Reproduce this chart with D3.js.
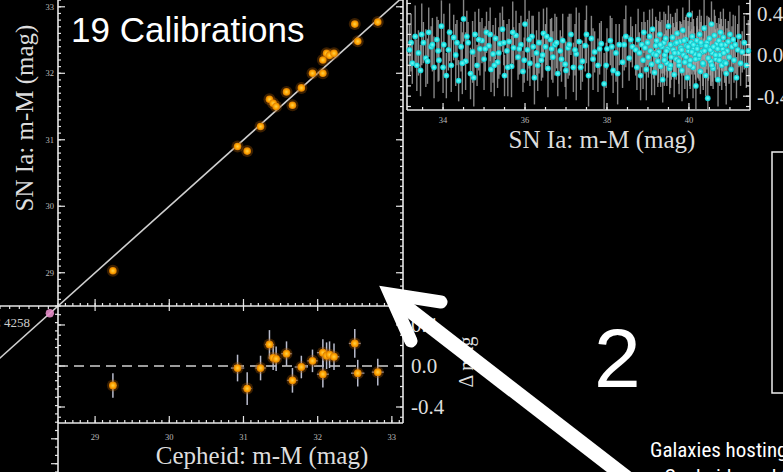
<!DOCTYPE html>
<html><head><meta charset="utf-8">
<script src="https://cdn.jsdelivr.net/npm/d3@7"></script>
<style>
html,body{margin:0;padding:0;background:#000;overflow:hidden;}
svg{display:block;}
</style></head>
<body>
<svg id="c" width="783" height="472"></svg>
<script>
// ---------- DATA ----------
// Calibrator galaxies: Cepheid distance modulus, SN Ia distance modulus, residual (mag), residual error, Cepheid error
const cephMu   = [29.24,30.92,31.05,31.23,31.35,31.40,31.44,31.58,31.66,31.78,31.93,32.07,32.07,32.12,32.16,32.22,32.50,32.54,32.81];
const snMu     = [29.03,30.90,30.83,31.20,31.61,31.55,31.50,31.72,31.52,31.78,32.00,32.20,32.00,32.30,32.27,32.30,32.74,32.48,32.77];
const resid    = [-0.19,-0.02,-0.22,-0.02,0.21,0.08,0.07,0.12,-0.14,-0.01,0.05,0.13,-0.08,0.10,0.11,0.09,0.22,-0.07,-0.06];
const residErr = [0.12,0.13,0.16,0.12,0.14,0.12,0.12,0.12,0.12,0.11,0.11,0.13,0.13,0.13,0.13,0.13,0.14,0.13,0.13];
const cephErr  = [0.05,0.09,0.06,0.07,0.06,0.06,0.06,0.07,0.07,0.09,0.07,0.08,0.08,0.07,0.07,0.07,0.08,0.09,0.08];
const anchorName = "NGC 4258";
const anchorMu = 28.39;

// Hubble-flow SNe Ia: [m-M, residual, error]
const hubbleSN = [
[33.18,0.05,0.25],[33.25,-0.08,0.2],[33.32,0.18,0.3],[33.40,0.02,0.22],[33.45,-0.15,0.25],[33.52,0.12,0.2],
[33.58,-0.03,0.28],[33.65,0.22,0.24],[33.71,0.08,0.2],[33.78,-0.12,0.3],[33.85,0.15,0.22],[33.90,-0.05,0.2],
[33.96,0.28,0.25],[34.02,0.10,0.3],[34.08,-0.20,0.22],[34.13,0.05,0.2],[34.20,-0.10,0.26],[34.26,0.17,0.22],
[34.31,0.00,0.3],[34.38,-0.25,0.2],[34.44,0.08,0.24],[34.50,0.35,0.22],[34.55,-0.06,0.28],[34.61,0.12,0.2],
[34.67,-0.18,0.25],[34.72,0.03,0.3],[34.78,0.20,0.22],[34.83,-0.10,0.2],[34.90,0.06,0.26],[34.95,0.14,0.22],
[35.00,-0.04,0.3],[35.06,0.22,0.2],[35.12,0.09,0.24],[35.17,-0.14,0.22],[35.22,0.01,0.28],[35.28,0.16,0.2],
[35.33,-0.07,0.25],[35.39,0.11,0.3],[35.45,0.25,0.22],[35.50,-0.20,0.2],[35.56,0.04,0.26],[35.61,0.13,0.22],
[35.67,-0.11,0.3],[35.72,0.07,0.2],[35.78,0.19,0.24],[35.83,-0.02,0.22],[35.90,0.10,0.28],[35.95,-0.16,0.2],
[36.00,0.30,0.25],[36.06,0.05,0.3],[36.12,-0.08,0.22],[36.17,0.18,0.2],[36.23,-0.22,0.26],[36.28,0.02,0.22],
[36.34,0.12,0.3],[36.40,-0.05,0.2],[36.45,0.21,0.24],[36.50,0.08,0.22],[36.56,-0.13,0.28],[36.62,0.15,0.2],
[36.68,-0.02,0.25],[36.73,0.10,0.3],[36.80,-0.18,0.22],[36.86,0.04,0.2],[36.92,0.14,0.26],[36.98,-0.09,0.22],
[37.05,0.07,0.3],[37.12,0.20,0.2],[37.18,-0.12,0.24],[37.25,0.01,0.45],[37.32,0.13,0.28],[37.40,-0.06,0.2],
[37.47,0.09,0.25],[37.55,-0.20,0.3],[37.62,0.16,0.22],[37.70,0.03,0.2],[37.78,-0.10,0.26],[37.86,0.11,0.22],
[37.93,-0.28,0.3],[38.00,0.06,0.2],[38.08,0.14,0.24],[38.15,-0.15,0.22],[38.22,0.02,0.28],[38.30,0.10,0.2],
[38.38,-0.07,0.25],[38.46,0.18,0.3],[38.54,-0.03,0.22],[38.62,0.08,0.2],
[33.22,0.12,0.28],[33.36,-0.10,0.25],[33.48,0.20,0.3],[33.62,-0.06,0.22],[33.74,0.10,0.26],[33.88,0.04,0.3],
[34.00,-0.12,0.25],[34.16,0.22,0.28],[34.34,0.12,0.22],[34.47,-0.08,0.3],[34.58,0.18,0.25],[34.75,-0.22,0.28],
[34.87,0.15,0.3],[35.03,0.06,0.22],[35.15,0.20,0.26],[35.25,-0.10,0.3],[35.36,0.02,0.25],[35.48,0.12,0.22],
[35.58,-0.12,0.28],[35.70,0.22,0.3],[35.86,0.06,0.25],[35.98,-0.05,0.22],[36.10,0.15,0.28],[36.20,0.08,0.3],
[36.31,-0.10,0.25],[36.43,0.00,0.22],[36.53,0.18,0.28],[36.65,0.06,0.3],[36.77,0.12,0.25],[36.89,-0.04,0.22],
[37.00,-0.15,0.28],[37.08,0.10,0.3],[37.22,0.05,0.25],[37.36,-0.12,0.22],[37.50,0.20,0.28],[37.66,-0.04,0.3],
[37.82,0.06,0.25],[37.98,-0.10,0.22],[38.12,0.08,0.28],[38.26,-0.18,0.3],[38.42,0.10,0.25],[38.58,0.15,0.22],
[38.70,0.05,0.25],[38.73,-0.12,0.22],[38.76,0.15,0.3],[38.79,0.02,0.2],[38.82,-0.20,0.24],[38.85,0.10,0.22],
[38.88,-0.05,0.28],[38.90,0.22,0.2],[38.93,0.07,0.25],[38.96,-0.14,0.3],[38.99,0.12,0.22],[39.01,-0.02,0.2],
[39.04,0.18,0.26],[39.06,0.04,0.22],[39.09,-0.09,0.3],[39.11,0.25,0.2],[39.14,0.01,0.24],[39.16,-0.17,0.22],
[39.19,0.09,0.28],[39.21,0.14,0.2],[39.24,-0.06,0.25],[39.26,0.03,0.3],[39.29,0.20,0.22],[39.31,-0.11,0.2],
[39.34,0.08,0.26],[39.36,-0.24,0.22],[39.39,0.12,0.3],[39.41,0.00,0.2],[39.43,0.16,0.24],[39.46,-0.08,0.22],
[39.48,0.06,0.28],[39.50,0.28,0.2],[39.53,-0.13,0.25],[39.55,0.10,0.3],[39.57,-0.02,0.22],[39.60,0.17,0.2],
[39.62,0.05,0.26],[39.64,-0.19,0.22],[39.67,0.11,0.3],[39.69,-0.04,0.2],[39.71,0.21,0.24],[39.74,0.02,0.22],
[39.76,-0.10,0.28],[39.78,0.13,0.2],[39.80,0.07,0.25],[39.83,-0.15,0.3],[39.85,0.24,0.22],[39.87,0.00,0.2],
[39.90,-0.07,0.26],[39.92,0.15,0.22],[39.94,0.09,0.3],[39.96,-0.22,0.2],[39.99,0.04,0.24],[40.01,0.39,0.22],
[40.03,-0.05,0.28],[40.05,0.12,0.2],[40.08,0.18,0.25],[40.10,-0.12,0.3],[40.12,0.06,0.22],[40.14,0.01,0.2],
[40.17,-0.30,0.26],[40.19,0.14,0.22],[40.21,0.08,0.3],[40.23,-0.03,0.2],[40.26,0.20,0.24],[40.28,-0.16,0.22],
[40.30,0.10,0.28],[40.32,0.03,0.2],[40.35,-0.09,0.25],[40.37,0.26,0.3],[40.39,0.05,0.22],[40.41,-0.20,0.2],
[40.44,0.12,0.26],[40.46,-0.42,0.22],[40.48,0.07,0.3],[40.50,0.16,0.2],[40.53,-0.06,0.24],[40.55,0.30,0.22],
[40.57,0.02,0.28],[40.59,-0.13,0.2],[40.62,0.19,0.25],[40.64,0.08,0.3],[40.66,-0.04,0.22],[40.68,0.11,0.2],
[40.71,-0.24,0.26],[40.73,0.14,0.22],[40.75,0.00,0.3],[40.77,0.22,0.2],[40.80,-0.10,0.24],[40.82,0.06,0.22],
[40.84,0.17,0.28],[40.87,-0.07,0.2],[40.89,0.10,0.25],[40.91,-0.18,0.3],[40.93,0.04,0.22],[40.96,0.13,0.2],
[40.98,-0.02,0.26],[41.00,0.20,0.22],[41.03,-0.14,0.3],[41.05,0.08,0.2],[41.08,0.15,0.24],[41.10,-0.05,0.22],
[41.13,0.10,0.28],[41.16,-0.22,0.2],[41.19,0.05,0.25],[41.22,0.18,0.3],[41.26,-0.08,0.22],[41.30,0.03,0.2],
[41.35,0.12,0.26],[41.40,-0.10,0.22],[41.45,0.04,0.3],
[39.20,0.00,0.2],[39.30,0.10,0.22],[39.40,-0.05,0.25],[39.45,0.04,0.2],[39.55,-0.10,0.22],[39.65,0.02,0.25],
[39.70,0.12,0.2],[39.75,-0.06,0.22],[39.82,0.05,0.25],[39.88,0.14,0.2],[39.93,-0.02,0.22],[39.98,0.08,0.25],
[40.02,-0.10,0.2],[40.07,0.03,0.22],[40.11,0.10,0.25],[40.16,-0.04,0.2],[40.20,0.06,0.22],[40.25,0.00,0.25],
[40.29,0.12,0.2],[40.34,-0.08,0.22],[40.38,0.04,0.25],[40.42,0.09,0.2],[40.47,-0.03,0.22],[40.52,0.05,0.25],
[40.56,-0.10,0.2],[40.60,0.08,0.22],[40.65,0.00,0.25],[40.70,0.06,0.2],[40.74,-0.05,0.22],[40.79,0.10,0.25],
[40.85,0.02,0.2],[40.90,-0.08,0.22]
];

// Tick labels
const mainYTicks  = [29,30,31,32,33];
const mainXTicks  = [29,30,31,32,33];
const residTicks  = [0.4,0.0,-0.4];
const hubXTicks   = [34,36,38,40];
const hubYTicks   = [0.4,0.0,-0.4];

// Texts
const titleText   = "19 Calibrations";
const mainYTitle  = "SN Ia: m-M (mag)";
const mainXTitle  = "Cepheid: m-M (mag)";
const residTitle  = "\u0394 mag";
const hubXTitle   = "SN Ia: m-M (mag)";
const stepLabel   = "2";
const caption1    = "Galaxies hosting both";
const caption2    = "Cepheids and SNe Ia";

// ---------- DRAWING ----------
const svg = d3.select("#c");
svg.append("rect").attr("width",783).attr("height",472).attr("fill","#000");

const AX = "#e6e6e6", SERIF = "'Liberation Serif','Times New Roman',serif", SANS = "'Liberation Sans',Arial,Helvetica,sans-serif";

// scales
const xM = d3.scaleLinear().domain([28.5, 33.15]).range([58, 403]);
const yM = d3.scaleLinear().domain([28.5, 33.2]).range([306, -6.5]);
const yR = d3.scaleLinear().domain([-0.556, 0.585]).range([423, 306]);
const xT = d3.scaleLinear().domain([33.12, 41.49]).range([407, 750]);
const yT = d3.scaleLinear().domain([-0.534, 0.592]).range([110, -6]);

const defs = svg.append("defs");
const g1 = defs.append("radialGradient").attr("id","og");
g1.append("stop").attr("offset","0%").attr("stop-color","#ffd24a");
g1.append("stop").attr("offset","60%").attr("stop-color","#ffa400");
g1.append("stop").attr("offset","100%").attr("stop-color","#d87a00");
const g2 = defs.append("radialGradient").attr("id","cg");
g2.append("stop").attr("offset","0%").attr("stop-color","#7ffaf6");
g2.append("stop").attr("offset","70%").attr("stop-color","#1ee3e3");
g2.append("stop").attr("offset","100%").attr("stop-color","#10b8c0");

function line(x1,y1,x2,y2,w){ svg.append("line").attr("x1",x1).attr("y1",y1).attr("x2",x2).attr("y2",y2)
  .attr("stroke",AX).attr("stroke-width",w||1.6); }

function vTicks(scale, x, vals, len){
  svg.append("g").selectAll("line").data(vals).join("line")
    .attr("x1",x).attr("x2",x+len).attr("y1",d=>scale(d)).attr("y2",d=>scale(d))
    .attr("stroke",AX).attr("stroke-width",1.2);
}
function hTicks(scale, y, vals, len){
  svg.append("g").selectAll("line").data(vals).join("line")
    .attr("y1",y).attr("y2",y+len).attr("x1",d=>scale(d)).attr("x2",d=>scale(d))
    .attr("stroke",AX).attr("stroke-width",1.2);
}
const rng = (a,b,s)=>d3.range(Math.round(a/s), Math.round(b/s)+1).map(i=>+(i*s).toFixed(3));

// ===== MAIN PANEL =====
const diag = [27.5, 33.15];
svg.append("path").datum(diag)
  .attr("d", d3.line().x(d=>xM(d)).y(d=>yM(d)))
  .attr("stroke","#cfcfcf").attr("stroke-width",1.6).attr("fill","none");

line(58,-5,58,472);
line(403,-5,403,423);
line(0,306,403,306);
line(58,423,403,423);
line(407,-5,407,110);
line(407,110,750,110);
line(750,-5,750,110);

const mainYMinor = rng(28.5,33.2,0.1);
vTicks(yM, 58, mainYMinor, 3);
vTicks(yM, 58, mainYTicks, 7);
vTicks(yM, 403, mainYMinor, -3);
vTicks(yM, 403, mainYTicks, -7);
const mainXMinor = rng(28.5,33.1,0.1);
hTicks(xM, 306, mainXMinor, -3);
hTicks(xM, 306, mainXTicks, -7);
hTicks(xM, 423, mainXMinor, -3);
hTicks(xM, 423, mainXTicks, -7);
hTicks(xM, 306, mainXTicks, 5);
const resMinor = rng(-0.5,0.5,0.1);
vTicks(yR, 58, resMinor, 3);
vTicks(yR, 58, [-0.4,0,0.4], 7);
vTicks(yR, 403, resMinor, -3);
vTicks(yR, 403, [-0.4,0,0.4], -7);
const extY = d3.scaleLinear().domain([0,20]).range([306,472]);
vTicks(extY, 58, d3.range(0,21), -3);
vTicks(extY, 58, [16,19], -7);
const extX = d3.scaleLinear().domain([0,6]).range([0,58]);
hTicks(extX, 306, d3.range(0,6), 3);

svg.append("g").selectAll("text").data(mainYTicks).join("text")
  .attr("x",54).attr("y",d=>yM(d)).attr("dy","0.35em").attr("text-anchor","end")
  .attr("font-family",SERIF).attr("font-size",8.5).attr("fill","#bbb").text(d=>d);

svg.append("g").selectAll("circle.halo").data(cephMu).join("circle")
  .attr("cx",d=>xM(d)).attr("cy",(d,i)=>yM(snMu[i])).attr("r",6)
  .attr("fill","#a85a00").attr("opacity",0.35);
svg.append("g").selectAll("circle").data(cephMu).join("circle")
  .attr("cx",d=>xM(d)).attr("cy",(d,i)=>yM(snMu[i])).attr("r",3.8).attr("fill","url(#og)");

svg.append("circle").attr("cx",xM(anchorMu)).attr("cy",yM(anchorMu)).attr("r",4.2).attr("fill","#e58cc8").attr("opacity",0.9);
svg.append("text").attr("x",30).attr("y",yM(anchorMu)+14).attr("text-anchor","end")
  .attr("font-family",SERIF).attr("font-size",13).attr("fill","#ccc").text(anchorName);

svg.append("text").attr("x",71).attr("y",42).attr("font-family",SANS).attr("font-size",35)
  .attr("fill","#fff").text(titleText);

svg.append("text").attr("transform","translate(33,118) rotate(-90)").attr("text-anchor","middle")
  .attr("font-family",SERIF).attr("font-size",25).attr("fill","#ddd").text(mainYTitle);

// ===== RESIDUAL PANEL =====
svg.append("line").attr("x1",58).attr("x2",403).attr("y1",yR(0)).attr("y2",yR(0))
  .attr("stroke","#cfcfcf").attr("stroke-width",1.6).attr("stroke-dasharray","10,6");
const rg = svg.append("g");
rg.selectAll("line.v").data(cephMu).join("line")
  .attr("x1",d=>xM(d)).attr("x2",d=>xM(d))
  .attr("y1",(d,i)=>yR(resid[i]-residErr[i])).attr("y2",(d,i)=>yR(resid[i]+residErr[i]))
  .attr("stroke","#b9bccd").attr("stroke-width",1.5);
rg.selectAll("line.h").data(cephMu).join("line")
  .attr("x1",(d,i)=>xM(d-cephErr[i])).attr("x2",(d,i)=>xM(d+cephErr[i]))
  .attr("y1",(d,i)=>yR(resid[i])).attr("y2",(d,i)=>yR(resid[i]))
  .attr("stroke","#8e9bbd").attr("stroke-width",1.3);
rg.selectAll("circle.halo").data(cephMu).join("circle")
  .attr("cx",d=>xM(d)).attr("cy",(d,i)=>yR(resid[i])).attr("r",6).attr("fill","#a85a00").attr("opacity",0.35);
rg.selectAll("circle.pt").data(cephMu).join("circle")
  .attr("cx",d=>xM(d)).attr("cy",(d,i)=>yR(resid[i])).attr("r",3.9).attr("fill","url(#og)");

svg.append("g").selectAll("text").data(mainXTicks).join("text")
  .attr("x",d=>xM(d)).attr("y",440).attr("text-anchor","middle")
  .attr("font-family",SERIF).attr("font-size",8.5).attr("fill","#bbb").text(d=>d);
svg.append("text").attr("x",262).attr("y",464).attr("text-anchor","middle")
  .attr("font-family",SERIF).attr("font-size",25).attr("fill","#ddd").text(mainXTitle);

svg.append("g").selectAll("text").data(residTicks).join("text")
  .attr("x",411).attr("y",d=>yR(d)).attr("dy","0.35em")
  .attr("font-family",SERIF).attr("font-size",21).attr("fill","#ddd").text(d=>d.toFixed(1));
svg.append("text").attr("transform","translate(473,362) rotate(-90)").attr("text-anchor","middle")
  .attr("font-family",SERIF).attr("font-size",20).attr("fill","#ddd").text(residTitle);

// ===== HUBBLE-FLOW PANEL (top right) =====
const hg = svg.append("g");
hg.selectAll("line").data(hubbleSN).join("line")
  .attr("x1",d=>xT(d[0])).attr("x2",d=>xT(d[0]))
  .attr("y1",d=>Math.min(110,yT(d[1]-d[2]))).attr("y2",d=>yT(d[1]+d[2]))
  .attr("stroke","#a8a8a8").attr("stroke-opacity",0.8).attr("stroke-width",1.4);
hg.selectAll("circle").data(hubbleSN).join("circle")
  .attr("cx",d=>xT(d[0])).attr("cy",d=>yT(d[1])).attr("r",2.9).attr("fill","url(#cg)");

vTicks(yT, 407, rng(-0.5,0.5,0.1), 4);
vTicks(yT, 750, rng(-0.5,0.5,0.1), -4);
vTicks(yT, 750, hubYTicks, -7);
hTicks(xT, 110, rng(33.5,41,0.5), -3);
hTicks(xT, 110, hubXTicks, -7);
svg.append("g").selectAll("text").data(hubXTicks).join("text")
  .attr("x",d=>xT(d)).attr("y",123).attr("text-anchor","middle")
  .attr("font-family",SERIF).attr("font-size",8.5).attr("fill","#bbb").text(d=>d);
svg.append("text").attr("x",602).attr("y",148).attr("text-anchor","middle")
  .attr("font-family",SERIF).attr("font-size",25).attr("fill","#ddd").text(hubXTitle);
svg.append("g").selectAll("text").data(hubYTicks).join("text")
  .attr("x",757).attr("y",d=>yT(d)).attr("dy","0.35em")
  .attr("font-family",SERIF).attr("font-size",21).attr("fill","#ddd").text(d=>d.toFixed(1));

// ===== SLIDE ANNOTATIONS =====
svg.append("text").attr("x",594).attr("y",387).attr("font-family",SANS).attr("font-size",84)
  .attr("fill","#fff").text(stepLabel);
svg.append("rect").attr("x",772).attr("y",152).attr("width",40).attr("height",241)
  .attr("fill","none").attr("stroke","#eee").attr("stroke-width",1.5);
svg.append("text").attr("x",650).attr("y",457)
  .attr("font-family","'Liberation Sans Narrow','Arial Narrow','Roboto Condensed',sans-serif")
  .attr("font-size",21).attr("fill","#fff").text(caption1);
svg.append("text").attr("x",664).attr("y",484)
  .attr("font-family","'Liberation Sans Narrow','Arial Narrow','Roboto Condensed',sans-serif")
  .attr("font-size",21).attr("fill","#fff").text(caption2);

svg.append("line").attr("x1",394).attr("y1",298).attr("x2",645).attr("y2",492)
  .attr("stroke","#fff").attr("stroke-width",15);
svg.append("path").attr("d","M441,302 L390,294 L411,341")
  .attr("fill","none").attr("stroke","#fff").attr("stroke-width",13)
  .attr("stroke-linejoin","miter").attr("stroke-linecap","round");
</script>
</body></html>
